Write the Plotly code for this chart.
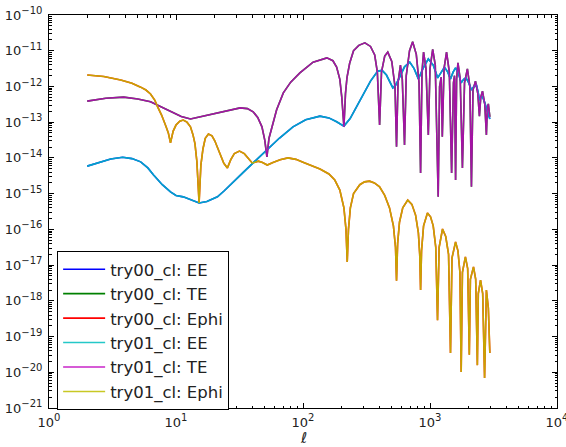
import plotly.graph_objects as go

# ---------------- data (log10 of C_l) ----------------
ee_ell = [2, 2.5, 3.06, 3.8, 4.5, 5.27, 6.0, 6.66, 7.8, 9.05, 10, 11.4, 13, 15.2, 17.5, 21.2, 24, 28.2,
          34, 40.5, 52.3, 65, 83.4, 105, 136, 160, 184, 210, 235, 265, 300, 340, 388, 420, 454, 490,
          510, 540, 578, 630, 693, 750, 810, 880, 970, 1060, 1150, 1220, 1300, 1380, 1450, 1520,
          1590, 1680, 1760, 1840, 1920, 2020, 2120, 2220, 2320, 2390, 2450, 2520, 2590, 2680, 2780,
          2870, 2960]
ee_log10 = [-14.23, -14.12, -14.03, -13.98, -14.02, -14.11, -14.28, -14.48, -14.75, -14.95, -15.05,
            -15.09, -15.16, -15.26, -15.22, -15.09, -14.92, -14.67, -14.40, -14.14, -13.78, -13.45,
            -13.13, -12.93, -12.83, -12.88, -12.99, -13.11, -12.90, -12.57, -12.20, -11.85, -11.57,
            -11.55, -11.68, -11.90, -12.04, -11.95, -11.74, -11.45, -11.32, -11.50, -11.79, -11.50,
            -11.23, -11.40, -11.76, -11.60, -11.46, -11.60, -11.79, -11.60, -11.48, -11.65, -11.90,
            -11.80, -11.76, -11.90, -12.10, -12.00, -11.96, -12.15, -12.38, -12.30, -12.29, -12.42,
            -12.60, -12.75, -12.91]

te_ell = [2, 2.8, 3.87, 5, 6.3, 7.6, 9.05, 11, 13, 15.6, 18.5, 22.3, 27, 32, 36.5, 40.5, 44, 47.5,
          50, 52, 54, 57, 62, 70, 80, 94.5, 120, 154, 172, 184, 195, 202, 210, 216, 222, 233, 250,
          275, 307, 340, 367, 385, 401, 415, 440, 465, 500, 530, 545, 560, 585, 605, 630, 650, 690,
          730, 780, 820, 843, 865, 890, 930, 970, 1000, 1050, 1100, 1160, 1190, 1225, 1250, 1290,
          1350, 1420, 1480, 1530, 1560, 1590, 1620, 1660, 1730, 1800, 1870, 1970, 2060, 2120, 2180,
          2280, 2380, 2450, 2510, 2590, 2700, 2780, 2830, 2880, 2960]
te_log10 = [-12.41, -12.33, -12.30, -12.35, -12.43, -12.57, -12.71, -12.84, -12.91, -12.85, -12.79,
            -12.74, -12.66, -12.60, -12.62, -12.71, -12.87, -13.13, -13.50, -13.97, -13.45, -13.13,
            -12.65, -12.18, -11.88, -11.62, -11.32, -11.20, -11.28, -11.46, -11.80, -12.30, -13.13,
            -12.20, -11.75, -11.35, -11.00, -10.85, -10.78, -10.88, -11.12, -11.60, -13.08, -11.60,
            -11.15, -11.04, -11.30, -12.00, -13.69, -11.90, -11.40, -11.80, -13.64, -11.70, -11.00,
            -10.75, -11.10, -11.90, -14.42, -11.60, -11.04, -11.50, -13.36, -11.50, -10.96, -11.40,
            -15.09, -12.00, -11.74, -13.41, -11.50, -11.04, -11.60, -14.42, -11.90, -11.70, -14.62,
            -11.80, -11.34, -11.80, -14.28, -11.90, -11.51, -12.00, -14.81, -12.10, -11.85, -12.20,
            -12.83, -12.30, -12.13, -12.50, -13.36, -12.60, -12.49, -12.85]

ephi_ell = [2, 2.7, 3.67, 4.5, 5.27, 5.8, 6.3, 6.8, 7.17, 7.7, 8.3, 8.7, 9.05, 9.5, 10.0, 10.7, 11.4,
            12.2, 13.0, 13.6, 14.1, 14.6, 15.2, 15.7, 16.3, 17.0, 18.0, 19.2, 20.2, 21.2, 22.5, 23.8,
            25.4, 27, 28.8, 31.6, 34.5, 37, 39.8, 42, 44.5, 48, 52.3, 58, 66, 76.1, 88, 100, 118, 136,
            160, 178, 195, 210, 218, 223, 228, 236, 250, 280, 305, 334, 365, 401, 440, 480, 515, 535,
            545, 556, 575, 610, 668, 720, 770, 810, 830, 843, 858, 890, 955, 1010, 1060, 1110, 1146,
            1180, 1255, 1330, 1400, 1450, 1490, 1590, 1660, 1720, 1760, 1800, 1900, 1980, 2040, 2080,
            2200, 2290, 2360, 2400, 2500, 2600, 2690, 2740, 2780, 2880, 2960]
ephi_log10 = [-11.68, -11.72, -11.82, -11.91, -12.02, -12.10, -12.21, -12.38, -12.57, -12.80, -13.10,
              -13.30, -13.58, -13.25, -13.08, -12.97, -12.94, -13.00, -13.13, -13.35, -13.60, -14.10,
              -15.26, -14.20, -13.75, -13.45, -13.33, -13.38, -13.52, -13.69, -13.95, -14.15, -14.28,
              -14.05, -13.88, -13.81, -13.88, -14.00, -14.14, -14.12, -14.09, -14.13, -14.20, -14.13,
              -14.05, -14.00, -14.04, -14.12, -14.22, -14.31, -14.45, -14.62, -14.90, -15.40, -16.00,
              -16.91, -16.00, -15.40, -15.00, -14.75, -14.67, -14.65, -14.70, -14.81, -15.05, -15.40,
              -15.90, -16.50, -17.44, -16.40, -15.80, -15.40, -15.18, -15.30, -15.60, -16.10, -16.70,
              -17.70, -16.60, -15.90, -15.54, -15.65, -15.90, -16.50, -18.54, -16.50, -15.99, -16.20,
              -16.70, -19.46, -16.80, -16.35, -16.60, -17.20, -19.99, -17.20, -16.77, -17.10, -19.51,
              -17.40, -17.05, -17.40, -19.80, -17.80, -17.42, -17.80, -20.16, -17.90, -17.70, -18.20,
              -19.46]

ee_val = [10.0 ** v for v in ee_log10]
te_val = [10.0 ** v for v in te_log10]
ephi_val = [10.0 ** v for v in ephi_log10]

series = [
    ("try00_cl: EE", ee_ell, ee_val, "#0000ff"),
    ("try00_cl: TE", te_ell, te_val, "#008000"),
    ("try00_cl: Ephi", ephi_ell, ephi_val, "#ff0000"),
    ("try01_cl: EE", ee_ell, ee_val, "#00bfbf"),
    ("try01_cl: TE", te_ell, te_val, "#bf00bf"),
    ("try01_cl: Ephi", ephi_ell, ephi_val, "#bfbf00"),
]

SUP = "<sup><span style='font-size:10px'>%s</span></sup>"
x_exps = [0, 1, 2, 3, 4]
x_tickvals = [10 ** e for e in x_exps]
x_ticktext = ["10" + SUP % str(e) for e in x_exps]
y_exps = list(range(-21, -9))
y_tickvals = [10.0 ** e for e in y_exps]
y_ticktext = ["10" + SUP % ("\u2212%d" % (-e)) for e in y_exps]

fig = go.Figure()
for i, (name, xs, ys, col) in enumerate(series):
    fig.add_trace(go.Scatter(
        x=xs, y=ys, mode="lines", name=name,
        line=dict(color=col, width=1.6),
        opacity=1.0 if i < 3 else 0.86,
        hoverinfo="skip",
    ))

x_minor = [m * 10 ** d for d in range(0, 4) for m in range(2, 10)]
y_minor = [m * 10.0 ** d for d in range(-21, -10) for m in range(2, 10)]

axis_common = dict(
    showline=True, linecolor="black", linewidth=1, mirror="allticks",
    ticks="inside", ticklen=5, tickwidth=1, tickcolor="black",
    showgrid=False, zeroline=False, automargin=False,
    ticklabeloverflow="allow",
    tickfont=dict(family="DejaVu Sans", size=13, color="#222"),
)

fig.update_xaxes(type="log", range=[0, 4], tickmode="array", tickvals=x_tickvals, ticktext=x_ticktext,
                 minor=dict(tickmode="array", tickvals=x_minor, ticks="inside", ticklen=2.5,
                            tickcolor="black", showgrid=False),
                 ticklabelstandoff=2,
                 **axis_common)
fig.update_yaxes(type="log", range=[-21, -10], tickmode="array", tickvals=y_tickvals, ticktext=y_ticktext,
                 minor=dict(tickmode="array", tickvals=y_minor, ticks="inside", ticklen=2.5,
                            tickcolor="black", showgrid=False),
                 ticklabelstandoff=3,
                 **axis_common)

fig.update_layout(
    template="none",
    width=566, height=447,
    margin=dict(l=49, r=9, t=15, b=39, pad=0, autoexpand=False),
    paper_bgcolor="white", plot_bgcolor="white",
    font=dict(family="DejaVu Sans", size=14, color="#222"),
    showlegend=True,
    hovermode=False,
    legend=dict(x=0.016, y=0.3995, xanchor="left", yanchor="top",
                bgcolor="white", bordercolor="black", borderwidth=1,
                font=dict(family="DejaVu Sans", size=16.5, color="#222"),
                itemwidth=42, tracegroupgap=0),
    annotations=[dict(text="<i>ℓ</i>", x=0.5, y=-0.077, xref="paper", yref="paper",
                      xanchor="center", yanchor="middle", showarrow=False,
                      font=dict(family="DejaVu Sans", size=15, color="#222"))],
)

fig.write_html(
    "out.html",
    config={"displayModeBar": False, "staticPlot": True},
    post_script="document.body.style.margin='0px';document.body.style.overflow='hidden';",
)
